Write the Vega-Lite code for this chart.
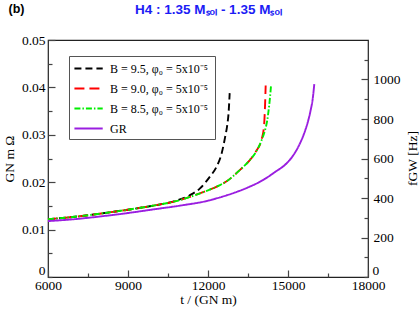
{
  "$schema": "https://vega.github.io/schema/vega-lite/v6.json",
  "width": 320,
  "height": 237,
  "autosize": "none",
  "padding": {"left": 48, "top": 40, "right": 52, "bottom": 33},
  "config": {
    "view": {"stroke": "#222", "strokeWidth": 1.2},
    "axis": {
      "labelFont": "Liberation Serif", "titleFont": "Liberation Serif",
      "labelFontSize": 13.5, "titleFontSize": 13.5,
      "labelColor": "black", "titleColor": "black", "titleFontWeight": "normal",
      "grid": false, "domain": false, "tickColor": "#444", "tickWidth": 1.2,
      "labelFlush": false, "labelOverlap": false
    },
    "legend": {
      "strokeColor": "#555", "fillColor": "white", "padding": 4,
      "labelFont": "Liberation Serif", "labelFontSize": 12, "labelColor": "black",
      "symbolType": "M-1,0H3", "symbolSize": 200, "symbolStrokeWidth": 2,
      "rowPadding": 5, "labelOffset": 20, "labelLimit": 300
    }
  },
  "data": {"values": [
    {"s": "B = 9.5,  φ₀ = 5x10⁻⁵", "t": 6000, "v": 0.0122},
    {"s": "B = 9.5,  φ₀ = 5x10⁻⁵", "t": 7000, "v": 0.0127},
    {"s": "B = 9.5,  φ₀ = 5x10⁻⁵", "t": 8000, "v": 0.0134},
    {"s": "B = 9.5,  φ₀ = 5x10⁻⁵", "t": 9000, "v": 0.0142},
    {"s": "B = 9.5,  φ₀ = 5x10⁻⁵", "t": 10000, "v": 0.0151},
    {"s": "B = 9.5,  φ₀ = 5x10⁻⁵", "t": 10800, "v": 0.0161},
    {"s": "B = 9.5,  φ₀ = 5x10⁻⁵", "t": 11300, "v": 0.0172},
    {"s": "B = 9.5,  φ₀ = 5x10⁻⁵", "t": 11700, "v": 0.0187},
    {"s": "B = 9.5,  φ₀ = 5x10⁻⁵", "t": 12075, "v": 0.0212},
    {"s": "B = 9.5,  φ₀ = 5x10⁻⁵", "t": 12325, "v": 0.0233},
    {"s": "B = 9.5,  φ₀ = 5x10⁻⁵", "t": 12513, "v": 0.0261},
    {"s": "B = 9.5,  φ₀ = 5x10⁻⁵", "t": 12638, "v": 0.0294},
    {"s": "B = 9.5,  φ₀ = 5x10⁻⁵", "t": 12720, "v": 0.0320},
    {"s": "B = 9.5,  φ₀ = 5x10⁻⁵", "t": 12770, "v": 0.0345},
    {"s": "B = 9.5,  φ₀ = 5x10⁻⁵", "t": 12813, "v": 0.0388},
    {"s": "B = 9.0,  φ₀ = 5x10⁻⁵", "t": 6000, "v": 0.0122},
    {"s": "B = 9.0,  φ₀ = 5x10⁻⁵", "t": 7000, "v": 0.0127},
    {"s": "B = 9.0,  φ₀ = 5x10⁻⁵", "t": 8000, "v": 0.0134},
    {"s": "B = 9.0,  φ₀ = 5x10⁻⁵", "t": 9000, "v": 0.0142},
    {"s": "B = 9.0,  φ₀ = 5x10⁻⁵", "t": 10000, "v": 0.0151},
    {"s": "B = 9.0,  φ₀ = 5x10⁻⁵", "t": 10800, "v": 0.0160},
    {"s": "B = 9.0,  φ₀ = 5x10⁻⁵", "t": 11325, "v": 0.0169},
    {"s": "B = 9.0,  φ₀ = 5x10⁻⁵", "t": 12000, "v": 0.0183},
    {"s": "B = 9.0,  φ₀ = 5x10⁻⁵", "t": 12450, "v": 0.0194},
    {"s": "B = 9.0,  φ₀ = 5x10⁻⁵", "t": 12700, "v": 0.0202},
    {"s": "B = 9.0,  φ₀ = 5x10⁻⁵", "t": 13200, "v": 0.0226},
    {"s": "B = 9.0,  φ₀ = 5x10⁻⁵", "t": 13575, "v": 0.0247},
    {"s": "B = 9.0,  φ₀ = 5x10⁻⁵", "t": 13800, "v": 0.0265},
    {"s": "B = 9.0,  φ₀ = 5x10⁻⁵", "t": 14013, "v": 0.0291},
    {"s": "B = 9.0,  φ₀ = 5x10⁻⁵", "t": 14100, "v": 0.0318},
    {"s": "B = 9.0,  φ₀ = 5x10⁻⁵", "t": 14138, "v": 0.0360},
    {"s": "B = 9.0,  φ₀ = 5x10⁻⁵", "t": 14163, "v": 0.0404},
    {"s": "B = 8.5,  φ₀ = 5x10⁻⁵", "t": 6000, "v": 0.0122},
    {"s": "B = 8.5,  φ₀ = 5x10⁻⁵", "t": 7000, "v": 0.0127},
    {"s": "B = 8.5,  φ₀ = 5x10⁻⁵", "t": 8000, "v": 0.0134},
    {"s": "B = 8.5,  φ₀ = 5x10⁻⁵", "t": 9000, "v": 0.0142},
    {"s": "B = 8.5,  φ₀ = 5x10⁻⁵", "t": 10000, "v": 0.0151},
    {"s": "B = 8.5,  φ₀ = 5x10⁻⁵", "t": 10800, "v": 0.0160},
    {"s": "B = 8.5,  φ₀ = 5x10⁻⁵", "t": 11325, "v": 0.0169},
    {"s": "B = 8.5,  φ₀ = 5x10⁻⁵", "t": 12000, "v": 0.0183},
    {"s": "B = 8.5,  φ₀ = 5x10⁻⁵", "t": 12450, "v": 0.0194},
    {"s": "B = 8.5,  φ₀ = 5x10⁻⁵", "t": 12700, "v": 0.0202},
    {"s": "B = 8.5,  φ₀ = 5x10⁻⁵", "t": 13200, "v": 0.0226},
    {"s": "B = 8.5,  φ₀ = 5x10⁻⁵", "t": 13575, "v": 0.0247},
    {"s": "B = 8.5,  φ₀ = 5x10⁻⁵", "t": 13800, "v": 0.0264},
    {"s": "B = 8.5,  φ₀ = 5x10⁻⁵", "t": 14013, "v": 0.0289},
    {"s": "B = 8.5,  φ₀ = 5x10⁻⁵", "t": 14150, "v": 0.0312},
    {"s": "B = 8.5,  φ₀ = 5x10⁻⁵", "t": 14220, "v": 0.0330},
    {"s": "B = 8.5,  φ₀ = 5x10⁻⁵", "t": 14290, "v": 0.0360},
    {"s": "B = 8.5,  φ₀ = 5x10⁻⁵", "t": 14335, "v": 0.0385},
    {"s": "B = 8.5,  φ₀ = 5x10⁻⁵", "t": 14363, "v": 0.0404},
    {"s": "GR", "t": 6000, "v": 0.0118},
    {"s": "GR", "t": 7000, "v": 0.0122},
    {"s": "GR", "t": 8000, "v": 0.0128},
    {"s": "GR", "t": 9000, "v": 0.0135},
    {"s": "GR", "t": 10000, "v": 0.0143},
    {"s": "GR", "t": 11000, "v": 0.0151},
    {"s": "GR", "t": 12000, "v": 0.0161},
    {"s": "GR", "t": 12450, "v": 0.0168},
    {"s": "GR", "t": 13000, "v": 0.0178},
    {"s": "GR", "t": 13500, "v": 0.0189},
    {"s": "GR", "t": 14075, "v": 0.0205},
    {"s": "GR", "t": 14500, "v": 0.0221},
    {"s": "GR", "t": 14950, "v": 0.0240},
    {"s": "GR", "t": 15200, "v": 0.0257},
    {"s": "GR", "t": 15450, "v": 0.0282},
    {"s": "GR", "t": 15650, "v": 0.0310},
    {"s": "GR", "t": 15763, "v": 0.0331},
    {"s": "GR", "t": 15850, "v": 0.0352},
    {"s": "GR", "t": 15925, "v": 0.0375},
    {"s": "GR", "t": 15986, "v": 0.0407}
  ]},
  "layer": [
    {
      "mark": {"type": "line", "interpolate": "monotone", "strokeWidth": 1.9},
      "encoding": {
        "x": {"field": "t", "type": "quantitative",
          "scale": {"domain": [6000, 18000], "nice": false, "zero": false},
          "axis": {"orient": "bottom", "values": [6000, 9000, 12000, 15000, 18000], "format": "d",
            "tickSize": -7, "labelPadding": 8, "title": "t / (GN m)", "titlePadding": 1}},
        "y": {"field": "v", "type": "quantitative",
          "scale": {"domain": [0, 0.05], "nice": false},
          "axis": {"orient": "left", "values": [0.01, 0.02, 0.03, 0.04, 0.05], "format": "~g",
            "tickSize": -7, "labelPadding": 10, "title": "GN m Ω", "titlePadding": 5}},
        "color": {"field": "s", "type": "nominal", "title": null,
          "scale": {"domain": ["B = 9.5,  φ₀ = 5x10⁻⁵", "B = 9.0,  φ₀ = 5x10⁻⁵", "B = 8.5,  φ₀ = 5x10⁻⁵", "GR"],
                    "range": ["#000000", "#ff0000", "#00ee00", "#9a1ee0"]},
          "legend": {"orient": "none", "legendX": 21, "legendY": 16}},
        "strokeDash": {"field": "s", "type": "nominal", "title": null,
          "scale": {"domain": ["B = 9.5,  φ₀ = 5x10⁻⁵", "B = 9.0,  φ₀ = 5x10⁻⁵", "B = 8.5,  φ₀ = 5x10⁻⁵", "GR"],
                    "range": [[7, 4], [10, 5], [6, 2, 1.5, 2], [1, 0]]},
          "legend": {"orient": "none", "legendX": 21, "legendY": 16}}
      }
    },
    {
      "mark": {"type": "rule", "opacity": 0},
      "encoding": {
        "x": {"datum": 6000, "type": "quantitative",
          "axis": {"orient": "bottom", "values": [7500, 10500, 13500, 16500], "labels": false, "tickSize": -4, "title": null}},
        "y": {"datum": 0, "type": "quantitative",
          "scale": {"domain": [0, 0.05], "nice": false},
          "axis": {"orient": "left", "values": [0, 0.005, 0.015, 0.025, 0.035, 0.045],
            "labelExpr": "datum.value == 0 ? '0' : ''", "labelOffset": -7,
            "tickSize": -4, "labelPadding": 7, "title": null}}
      }
    },
    {
      "mark": {"type": "rule", "opacity": 0},
      "encoding": {
        "x": {"datum": 6000, "type": "quantitative",
          "axis": {"orient": "top", "labels": false, "ticks": false, "title": "H4 : 1.35 Mₛₒₗ - 1.35 Mₛₒₗ",
            "titleFont": "Liberation Sans", "titleFontWeight": "bold", "titleFontSize": 13.5, "titleColor": "#1c1cf5",
            "titleX": 160, "titleY": -27, "titleAlign": "center", "titleBaseline": "alphabetic"}},
        "y": {"datum": 0, "type": "quantitative",
          "scale": {"domain": [0, 1200], "nice": false},
          "axis": {"orient": "right", "values": [200, 400, 600, 800, 1000], "format": "d",
            "tickSize": -7, "labelPadding": 12, "title": "fGW [Hz]", "titleAngle": -90,
            "titleX": 48, "titleY": 118, "titleAlign": "center", "titleBaseline": "alphabetic"}}
      }
    },
    {
      "mark": {"type": "rule", "opacity": 0},
      "encoding": {
        "x": {"datum": 6000, "type": "quantitative",
          "axis": {"orient": "top", "labels": false, "ticks": false, "title": "(b)",
            "titleFont": "Liberation Sans", "titleFontWeight": "bold", "titleFontSize": 12.5, "titleColor": "black",
            "titleX": -40, "titleY": -28, "titleAlign": "left", "titleBaseline": "alphabetic"}},
        "y": {"datum": 0, "type": "quantitative",
          "scale": {"domain": [0, 1200], "nice": false},
          "axis": {"orient": "right", "values": [0, 100, 300, 500, 700, 900, 1100],
            "labelExpr": "datum.value == 0 ? '0' : ''", "labelOffset": -7,
            "labelPadding": 8, "tickSize": -4, "title": null}}
      }
    }
  ],
  "resolve": {"scale": {"y": "independent"}, "axis": {"x": "independent", "y": "independent"}}
}
